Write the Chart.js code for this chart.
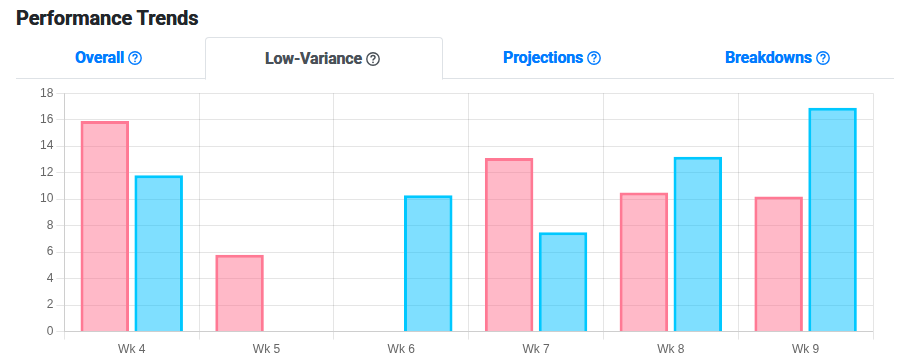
<!DOCTYPE html>
<html lang="en">
<head>
<meta charset="UTF-8">
<title>Performance Trends</title>
<script src="https://cdn.jsdelivr.net/npm/chart.js"></script>
<style>
  html, body { margin: 0; padding: 0; background: #fff; overflow: hidden; }
  body { width: 909px; height: 364px; position: relative; font-family: Roboto, sans-serif; }
  h1 { position: absolute; left: 16px; top: 5px; margin: 0; font-size: 20px; line-height: 26px; font-weight: 700; color: #212529; letter-spacing: -0.1px; text-shadow: 0 0 .4px #212529; }
  .tabline { position: absolute; left: 16px; top: 78px; width: 878px; height: 1px; background: #dee2e6; }
  .tab { position: absolute; top: 37px; height: 41px; line-height: 41px; white-space: nowrap; font-size: 16px; font-weight: 700; color: #007bff; letter-spacing: -0.17px; text-shadow: 0 0 .4px currentColor; }
  .tab.active { color: #495057; background: #fff; border: 1px solid #dee2e6; border-bottom: 1px solid #fff; border-radius: 4px 4px 0 0; top: 37px; width: 236px; box-sizing: content-box; }
  .tab svg { vertical-align: -2px; margin-left: 4px; }
  #wrap { position: absolute; left: 16px; top: 83px; width: 878px; height: 281px; }
</style>
</head>
<body>
  <h1>Performance Trends</h1>
  <div class="tabline"></div>
  <div class="tab" style="left:75px">Overall<svg width="14" height="14" viewBox="0 0 14 14"><use href="#q"/></svg></div>
  <div class="tab active" style="left:205px"><span style="margin-left:59px">Low-Variance</span><svg width="14" height="14" viewBox="0 0 14 14"><use href="#q"/></svg></div>
  <div class="tab" style="left:503px">Projections<svg width="14" height="14" viewBox="0 0 14 14"><use href="#q"/></svg></div>
  <div class="tab" style="left:725px">Breakdowns<svg width="14" height="14" viewBox="0 0 14 14"><use href="#q"/></svg></div>
  <svg width="0" height="0" style="position:absolute">
    <symbol id="q" viewBox="0 0 14 14">
      <circle cx="7" cy="7" r="6.2" fill="none" stroke="currentColor" stroke-width="1.4"/>
      <path d="M5 5.5c0-1.2.9-1.9 2-1.9s2 .7 2 1.8c0 1.5-2 1.5-2 3" fill="none" stroke="currentColor" stroke-width="1.5"/>
      <circle cx="7" cy="10.3" r=".9" fill="currentColor"/>
    </symbol>
  </svg>
  <div id="wrap"><canvas id="trendChart"></canvas></div>

  <script>
    const weeks = ["Wk 4", "Wk 5", "Wk 6", "Wk 7", "Wk 8", "Wk 9"];
    const redSeries = [15.9, 5.8, 0, 13.1, 10.5, 10.2];
    const blueSeries = [11.8, 0, 10.3, 7.5, 13.2, 16.9];

    new Chart(document.getElementById("trendChart"), {
      type: "bar",
      data: {
        labels: weeks,
        datasets: [
          { label: "Series A", data: redSeries, backgroundColor: "rgba(255,99,132,0.45)", borderColor: "rgb(255,121,148)", borderWidth: 3 },
          { label: "Series B", data: blueSeries, backgroundColor: "rgba(0,191,255,0.5)", borderColor: "rgb(0,200,255)", borderWidth: 3 }
        ]
      },
      options: {
        responsive: true,
        maintainAspectRatio: false,
        animation: false,
        layout: { padding: { left: 21, right: 21, top: 0, bottom: 4 } },
        plugins: { legend: { display: false }, tooltip: { enabled: false } },
        scales: {
          x: {
            grid: { color: "rgba(0,0,0,0.1)" },
            ticks: { color: "#666", font: { family: "'Liberation Sans', Arial, sans-serif", size: 12 } }
          },
          y: {
            min: 0, max: 18,
            grid: { color: "rgba(0,0,0,0.1)" },
            ticks: { stepSize: 2, color: "#666", font: { family: "'Liberation Sans', Arial, sans-serif", size: 12 } }
          }
        }
      }
    });
  </script>
</body>
</html>
